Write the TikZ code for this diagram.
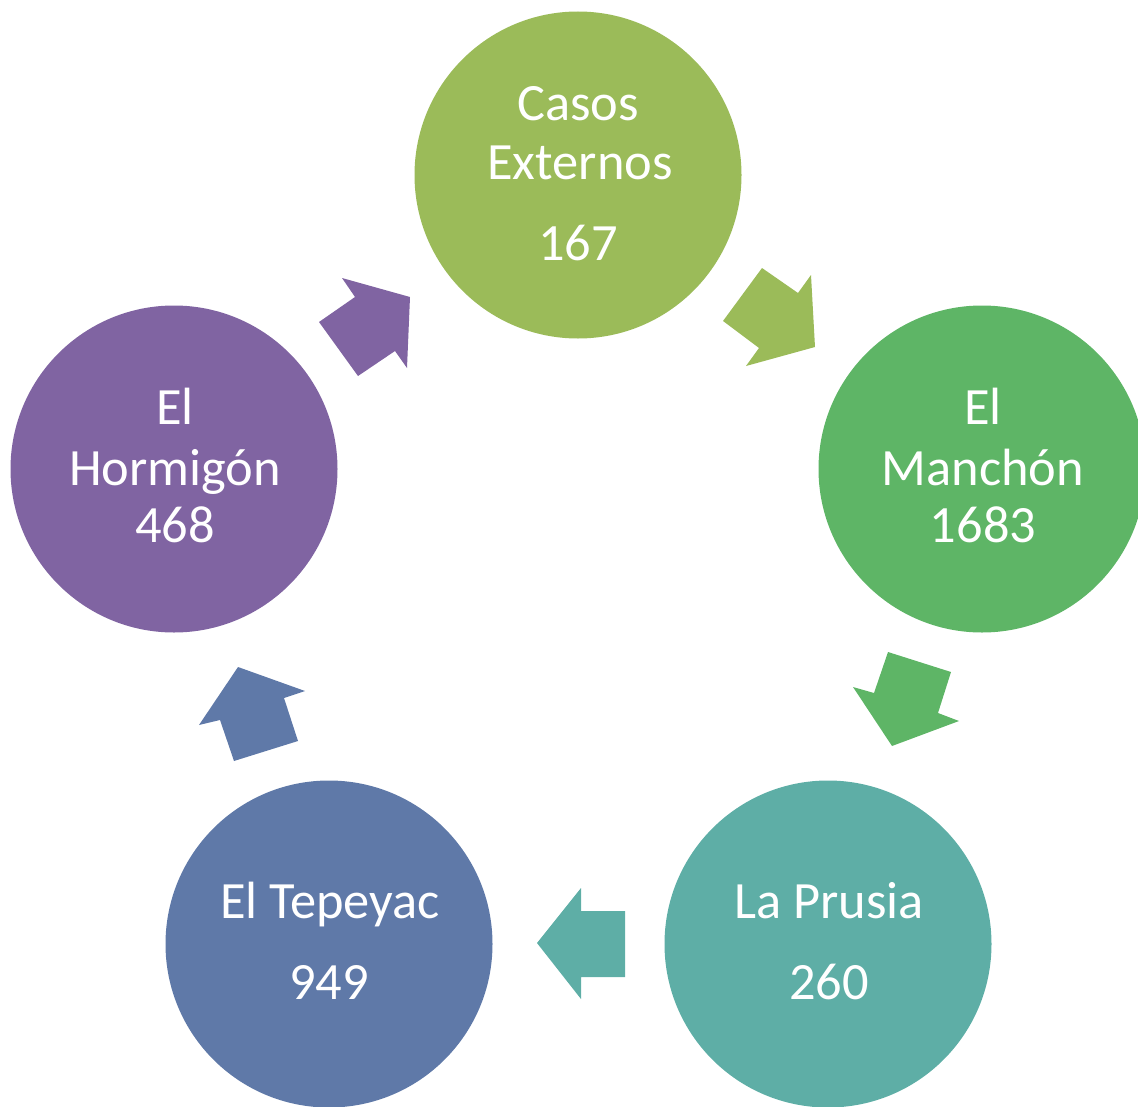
\documentclass[tikz,border=0pt]{standalone}
\usepackage{fontspec}
\setmainfont{Carlito}
\definecolor{cA}{HTML}{9BBB59}
\definecolor{cB}{HTML}{5EB566}
\definecolor{cC}{HTML}{5EAEA6}
\definecolor{cD}{HTML}{5F79A8}
\definecolor{cE}{HTML}{8064A2}
\begin{document}
\begin{tikzpicture}[x=0.75pt,y=-0.75pt,
  disc/.style={circle,draw=none,inner sep=0pt,minimum size=245.25pt},
  lbl/.style={anchor=base,text=white,inner sep=0pt,font=\fontsize{39.3pt}{45pt}\selectfont}]
\useasboundingbox (0,0) rectangle (1138,1106);
% circles
\node[disc,fill=cA] (c1) at (578,175) {};
\node[disc,fill=cB] (c2) at (982,469) {};
\node[disc,fill=cC] (c3) at (828,944) {};
\node[disc,fill=cD] (c4) at (329,944) {};
\node[disc,fill=cE] (c5) at (174,469) {};
% block arrows
\fill[cA] (762,268) -- (798,293) -- (811,275) -- (815,347) -- (746,366) -- (759,348) -- (723,321) -- cycle;
\fill[cB] (888,652) -- (951,672) -- (938,713) -- (959,721) -- (892,746) -- (853,687) -- (874,693) -- cycle;
\fill[cC] (581,888) -- (581,911) -- (625,911) -- (625,977) -- (581,977) -- (581,999) -- (537,943) -- cycle;
\fill[cD] (238,667) -- (305,691) -- (284,698) -- (298,741) -- (234,761) -- (220,720) -- (199,725) -- cycle;
\fill[cE] (342,278) -- (410,297) -- (407,368) -- (395,351) -- (358,376) -- (319,322) -- (355,297) -- cycle;
% labels
\node[lbl] (t1a) at (578,120) {Casos};
\node[lbl] (t1b) at (580,179) {Externos};
\node[lbl] (t1c) at (578,260) {167};
\node[lbl] (t2a) at (983,424) {El};
\node[lbl] (t2b) at (983,485) {Manchón};
\node[lbl] (t2c) at (983,542) {1683};
\node[lbl] (t3a) at (829,918) {La Prusia};
\node[lbl] (t3b) at (829,999) {260};
\node[lbl] (t4a) at (330,918) {El Tepeyac};
\node[lbl] (t4b) at (329,999) {949};
\node[lbl] (t5a) at (175,424) {El};
\node[lbl] (t5b) at (175,485) {Hormigón};
\node[lbl] (t5c) at (175,542) {468};
\end{tikzpicture}
\end{document}
